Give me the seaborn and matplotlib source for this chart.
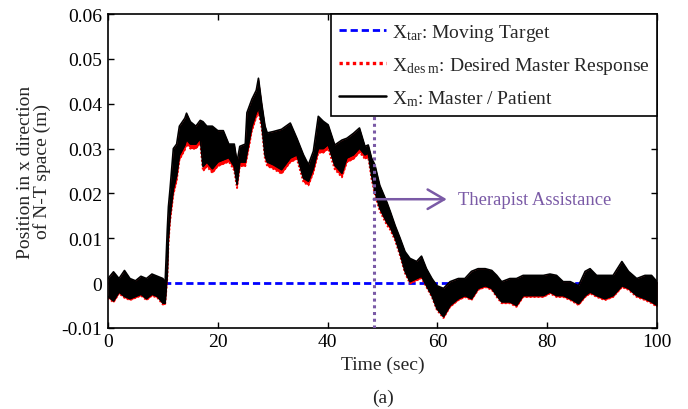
import matplotlib
matplotlib.use("Agg")
import matplotlib.pyplot as plt
from matplotlib.lines import Line2D
import seaborn as sns
import pandas as pd

# ---------------- data ----------------
t = [0, 1, 2, 3, 4, 5, 6, 7, 8, 9,
     10, 10.4, 10.8, 11.0, 11.3, 11.9, 12.5, 13, 14, 14.3,
     15, 16, 16.8, 17.3, 18, 19, 20, 21, 22, 23,
     23.5, 24, 25, 25.3, 26.2, 27, 27.4, 28, 28.6, 29,
     30.1, 31.6, 33.2, 34.4, 35.6, 36.5, 37.4, 38.3, 39.2, 40.1,
     41.3, 42.6, 43.5, 44.7, 45.8, 46.8, 47.4, 48, 48.6, 49.5,
     50.8, 51.4, 52.3, 53.2, 54.1, 55, 56.2, 57.1, 58, 59,
     59.9, 61.1, 62.3, 63.8, 65, 66.2, 67.4, 68.7, 69.9, 70.8,
     71.7, 73.2, 74.4, 75.6, 77.5, 79.3, 80.5, 81.7, 82.9, 84.2,
     85.7, 86.9, 87.8, 89, 90.5, 92, 93.6, 94.8, 96.3, 97.8,
     99, 100]

# upper edge of the master/patient band
xm_hi = [0.0010, 0.0025, 0.0010, 0.0028, 0.0010, 0.0005, 0.0015, 0.0010, 0.0020, 0.0015,
         0.0010, 0.0000, 0.0120, 0.0170, 0.0210, 0.0300, 0.0310, 0.0350, 0.0368, 0.0379,
         0.0360, 0.0350, 0.0363, 0.0360, 0.0350, 0.0350, 0.0340, 0.0340, 0.0310, 0.0310,
         0.0270, 0.0305, 0.0310, 0.0380, 0.0410, 0.0430, 0.0457, 0.0400, 0.0350, 0.0335,
         0.0338, 0.0343, 0.0357, 0.0323, 0.0286, 0.0264, 0.0294, 0.0372, 0.0361, 0.0353,
         0.0308, 0.0319, 0.0323, 0.0334, 0.0346, 0.0305, 0.0308, 0.0279, 0.0264, 0.0218,
         0.0180, 0.0160, 0.0128, 0.0100, 0.0070, 0.0055, 0.0048, 0.0060, 0.0032, 0.0010,
         -0.0006, -0.0012, 0.0003, 0.0010, 0.0010, 0.0026, 0.0032, 0.0032, 0.0028, 0.0017,
         0.0003, 0.0010, 0.0010, 0.0017, 0.0017, 0.0017, 0.0020, 0.0017, 0.0003, 0.0003,
         -0.0006, 0.0026, 0.0032, 0.0017, 0.0017, 0.0017, 0.0048, 0.0026, 0.0010, 0.0017,
         0.0017, 0.0003]

# lower edge of the master/patient band
xm_lo = [-0.0030, -0.0040, -0.0020, -0.0030, -0.0035, -0.0030, -0.0025, -0.0035, -0.0025, -0.0030,
         -0.0045, -0.0045, 0.0020, 0.0100, 0.0150, 0.0210, 0.0240, 0.0285, 0.0308, 0.0320,
         0.0310, 0.0310, 0.0323, 0.0260, 0.0270, 0.0255, 0.0270, 0.0275, 0.0280, 0.0260,
         0.0220, 0.0270, 0.0270, 0.0290, 0.0350, 0.0380, 0.0390, 0.0355, 0.0285, 0.0270,
         0.0264, 0.0253, 0.0279, 0.0286, 0.0234, 0.0227, 0.0256, 0.0300, 0.0300, 0.0309,
         0.0263, 0.0245, 0.0279, 0.0286, 0.0301, 0.0286, 0.0290, 0.0241, 0.0205, 0.0167,
         0.0135, 0.0125, 0.0100, 0.0066, 0.0026, 0.0003, 0.0010, 0.0015, -0.0006, -0.0028,
         -0.0057, -0.0075, -0.0050, -0.0035, -0.0028, -0.0035, -0.0012, -0.0006, -0.0012, -0.0028,
         -0.0042, -0.0042, -0.0050, -0.0028, -0.0028, -0.0028, -0.0020, -0.0028, -0.0028, -0.0035,
         -0.0046, -0.0028, -0.0020, -0.0028, -0.0035, -0.0028, -0.0006, -0.0012, -0.0028, -0.0035,
         -0.0042, -0.0050]

# lower edge of the desired master response band (shows in red below the black)
xdes_lo = [-0.0033, -0.0043, -0.0023, -0.0033, -0.0038, -0.0033, -0.0028, -0.0038, -0.0028, -0.0033,
           -0.0048, -0.0048, 0.0012, 0.0088, 0.0138, 0.0198, 0.0228, 0.0275, 0.0298, 0.0310,
           0.0300, 0.0300, 0.0313, 0.0250, 0.0260, 0.0246, 0.0261, 0.0266, 0.0271, 0.0251,
           0.0212, 0.0261, 0.0261, 0.0280, 0.0340, 0.0370, 0.0381, 0.0346, 0.0276, 0.0261,
           0.0255, 0.0244, 0.0270, 0.0277, 0.0225, 0.0218, 0.0247, 0.0291, 0.0291, 0.0300,
           0.0254, 0.0236, 0.0270, 0.0277, 0.0292, 0.0277, 0.0281, 0.0233, 0.0198, 0.0161,
           0.0129, 0.0119, 0.0095, 0.0061, 0.0022, -0.0001, 0.0006, 0.0011, -0.0009, -0.0031,
           -0.0060, -0.0078, -0.0053, -0.0038, -0.0031, -0.0038, -0.0015, -0.0009, -0.0015, -0.0031,
           -0.0045, -0.0045, -0.0053, -0.0031, -0.0031, -0.0031, -0.0023, -0.0031, -0.0031, -0.0038,
           -0.0049, -0.0031, -0.0023, -0.0031, -0.0038, -0.0031, -0.0009, -0.0015, -0.0031, -0.0038,
           -0.0045, -0.0053]

target_t = [0, 100]
target_x = [0.0, 0.0]

assist_time = 48.4
arrow_end = 61.7
arrow_y = 0.0187

legend_labels = [r"X$_{\mathregular{tar}}$: Moving Target",
                 r"X$_{\mathregular{des\ m}}$: Desired Master Response",
                 r"X$_{\mathregular{m}}$: Master / Patient"]

# ---------------- style ----------------
sns.set_style("ticks")
plt.rcParams["font.family"] = ["Liberation Serif", "DejaVu Serif"]
plt.rcParams["mathtext.fontset"] = "custom"
plt.rcParams["mathtext.rm"] = "Liberation Serif"
plt.rcParams["mathtext.it"] = "Liberation Serif:italic"
plt.rcParams["mathtext.bf"] = "Liberation Serif:bold"

purple = "#7a5aa6"

fig = plt.figure(figsize=(6.88, 4.10), dpi=100)
ax = fig.add_axes([0.157, 0.198, 0.798, 0.765])

df = pd.DataFrame({"t": t, "hi": xm_hi, "lo": xm_lo, "dlo": xdes_lo})
tgt = pd.DataFrame({"t": target_t, "x": target_x})

# target (under the bands)
sns.lineplot(data=tgt, x="t", y="x", ax=ax, color="#0000ff", lw=2.0,
             linestyle=(0, (2.6, 1.4)), zorder=1)

# desired master response (red) band
ax.fill_between(df["t"], df["dlo"], df["hi"], color="#ff0000", lw=0, zorder=2)
sns.lineplot(data=df, x="t", y="dlo", ax=ax, color="#ff0000", lw=1.4,
             linestyle=(0, (1, 1)), zorder=2)

# master / patient (black) band
ax.fill_between(df["t"], df["lo"], df["hi"], color="black", lw=0, zorder=3)
sns.lineplot(data=df, x="t", y="hi", ax=ax, color="black", lw=1.2, zorder=3)
sns.lineplot(data=df, x="t", y="lo", ax=ax, color="black", lw=1.2, zorder=3)

# therapist assistance marker
ax.axvline(assist_time, color=purple, ls=(0, (1, 1.2)), lw=2.2, zorder=4)
ax.annotate("", xy=(arrow_end, arrow_y), xytext=(assist_time, arrow_y),
            arrowprops=dict(arrowstyle="->,head_length=0.6,head_width=0.35",
                            color=purple, lw=1.8, mutation_scale=20,
                            shrinkA=0, shrinkB=0), zorder=5)
ax.text(arrow_end + 2.1, arrow_y, "Therapist Assistance", color=purple,
        fontsize=13.4, ha="left", va="center", zorder=5)

# axes
ax.set_xlim(0, 100)
ax.set_ylim(-0.01, 0.06)
ax.set_xticks([0, 20, 40, 60, 80, 100])
ax.set_yticks([-0.01, 0, 0.01, 0.02, 0.03, 0.04, 0.05, 0.06])
ax.set_yticklabels(["-0.01", "0", "0.01", "0.02", "0.03", "0.04", "0.05", "0.06"])
ax.tick_params(direction="in", top=True, right=True, length=4, width=1,
               labelsize=14, colors="black", pad=4)
for s in ax.spines.values():
    s.set_linewidth(1.2)
    s.set_color("black")
    s.set_visible(True)
ax.set_xlabel("Time (sec)", fontsize=14, labelpad=4)
ax.set_ylabel("Position in x direction\nof N-T space (m)", fontsize=14,
              labelpad=8, linespacing=0.9)

handles = [Line2D([], [], color="#0000ff", lw=2.0, linestyle=(0, (2.6, 1.4))),
           Line2D([], [], color="#ff0000", lw=2.4, linestyle=(0, (1, 1))),
           Line2D([], [], color="black", lw=1.8)]
leg = ax.legend(handles, legend_labels, loc="upper right", fontsize=14,
                frameon=True, fancybox=False, framealpha=1, edgecolor="black",
                borderaxespad=0, handlelength=2.4, handletextpad=0.3,
                labelspacing=0.62, borderpad=0.4)
leg.get_frame().set_linewidth(1.2)
leg.set_zorder(10)

fig.text(0.556, 1 - 398 / 410, "(a)", ha="center", va="center", fontsize=14)

fig.savefig("out.png", dpi=100)
